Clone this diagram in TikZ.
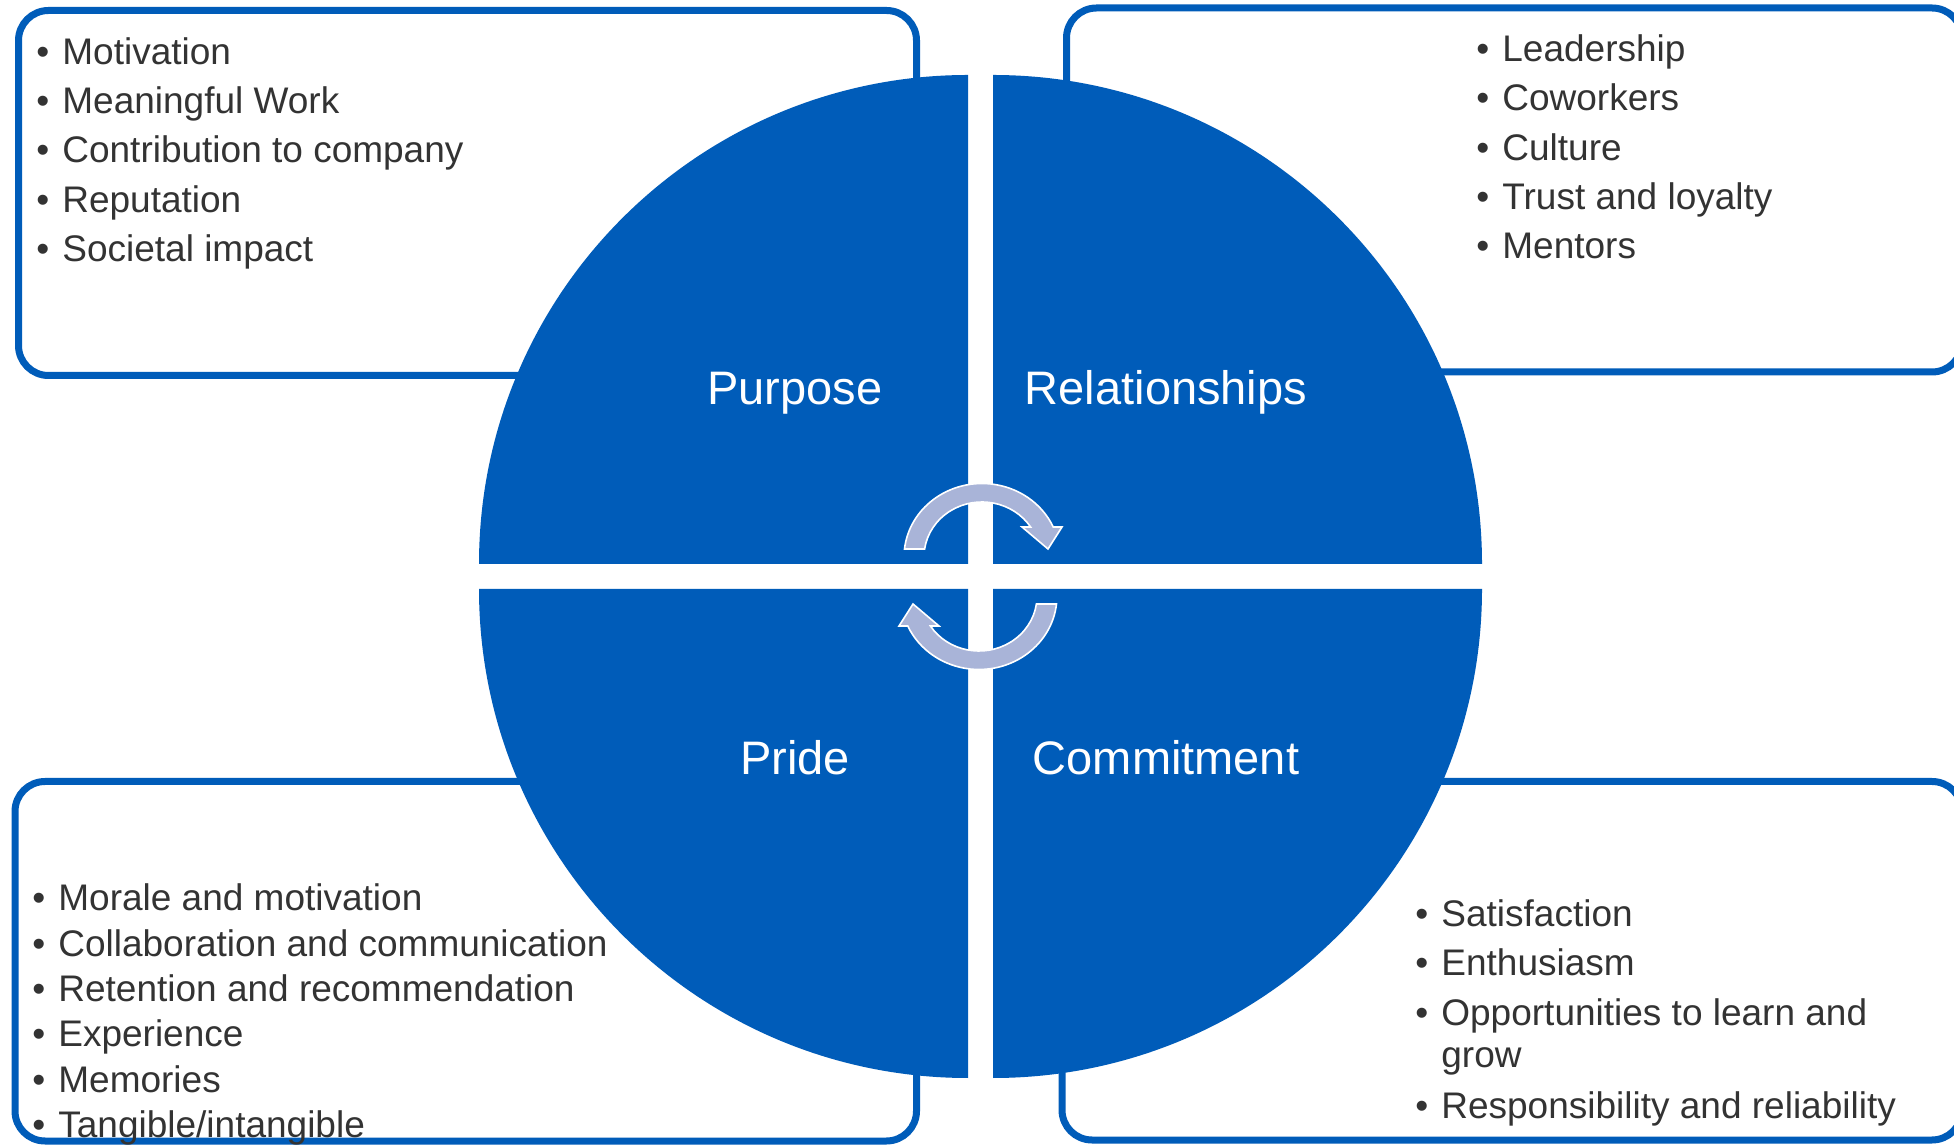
\documentclass[tikz,border=0pt]{standalone}
\usepackage{fontspec}
\setmainfont{Liberation Sans}
\usepackage{tikz}
\usetikzlibrary{calc}
\definecolor{marino}{RGB}{0,92,185}
\definecolor{lila}{RGB}{169,180,216}
\definecolor{grist}{RGB}{51,51,51}
\newcommand{\punto}{\makebox[13pt][l]{\textbullet}}
\tikzset{
  cuad/.style={fill=marino},
  panel/.style={draw=marino, fill=white, line width=3.5pt, rounded corners=15pt},
  rot/.style={font=\fontsize{23.5}{28}\selectfont, text=white, anchor=base, inner sep=0pt},
  item/.style={font=\fontsize{18.5}{22}\selectfont, text=grist, anchor=base west, inner sep=0pt},
  flecha/.style={fill=lila, draw=white, line width=0.8pt},
}

\begin{document}
\begin{tikzpicture}[x=0.5pt,y=0.5pt]
  \useasboundingbox (0,0) rectangle (1954,1146);
  \fill[white] (0,0) rectangle (1954,1146);
  \clip (0,0) rectangle (1954,1146);

  \draw[panel] (18.5,770.5) rectangle (916.5,1135.5);
  \draw[panel] (1066.5,774) rectangle (1962,1138);
  \draw[panel] (15,5) rectangle (916.5,364.5);
  \draw[panel] (1062,6) rectangle (1962,364.5);

  \fill[cuad] (968,582) -- ++(90:489) arc[start angle=90, delta angle=90, radius=489] -- cycle;
  \fill[cuad] (993,582) -- ++(0:489) arc[start angle=0, delta angle=90, radius=489] -- cycle;
  \fill[cuad] (968,557) -- ++(180:489) arc[start angle=180, delta angle=90, radius=489] -- cycle;
  \fill[cuad] (993,557) -- ++(270:489) arc[start angle=270, delta angle=90, radius=489] -- cycle;

  \path[flecha, shift={(982,589)}] (-77.5,8) arc[start angle=173.75, end angle=24.1, x radius=78, y radius=73.5]
    -- (80,30) -- (66,8) -- (40,30) -- (48.6,30) arc[start angle=33.05, end angle=171.6, x radius=58, y radius=55] -- cycle;
  \path[flecha, rotate around={180:(980.5,569.5)}, shift={(982,589)}] (-77.5,8) arc[start angle=173.75, end angle=24.1, x radius=78, y radius=73.5]
    -- (80,30) -- (66,8) -- (40,30) -- (48.6,30) arc[start angle=33.05, end angle=171.6, x radius=58, y radius=55] -- cycle;

  \node[rot] (pur) at (795,741) {Purpose};
  \node[rot] (rel) at (1166,741) {Relationships};
  \node[rot] (pri) at (795,371) {Pride};
  \node[rot] (com) at (1166,371) {Commitment};

  \node[item] (pu1) at (36,1081) {\punto Motivation};
  \node[item] (pu2) at (36,1032) {\punto Meaningful Work};
  \node[item] (pu3) at (36,983) {\punto Contribution to company};
  \node[item] (pu4) at (36,933) {\punto Reputation};
  \node[item] (pu5) at (36,884) {\punto Societal impact};

  \node[item] (re1) at (1476,1084) {\punto Leadership};
  \node[item] (re2) at (1476,1035) {\punto Coworkers};
  \node[item] (re3) at (1476,985) {\punto Culture};
  \node[item] (re4) at (1476,936) {\punto Trust and loyalty};
  \node[item] (re5) at (1476,887) {\punto Mentors};

  \node[item] (pr1) at (32,235) {\punto Morale and motivation};
  \node[item] (pr2) at (32,189) {\punto Collaboration and communication};
  \node[item] (pr3) at (32,144) {\punto Retention and recommendation};
  \node[item] (pr4) at (32,99) {\punto Experience};
  \node[item] (pr5) at (32,54) {\punto Memories};
  \node[item] (pr6) at (32,9) {\punto Tangible/intangible};

  \node[item] (co1) at (1415,219) {\punto Satisfaction};
  \node[item] (co2) at (1415,170) {\punto Enthusiasm};
  \node[item] (co3) at (1415,120) {\punto Opportunities to learn and};
  \node[item] (co3b) at (1441,78) {grow};
  \node[item] (co4) at (1415,28) {\punto Responsibility and reliability};
\end{tikzpicture}
\end{document}
